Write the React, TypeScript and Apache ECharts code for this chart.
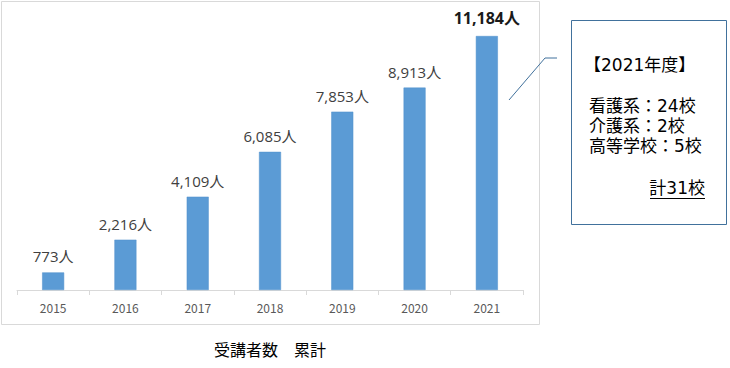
import React, { useEffect, useRef } from "react";
import * as echarts from "echarts";

const years = ["2015", "2016", "2017", "2018", "2019", "2020", "2021"];
const counts = [773, 2216, 4109, 6085, 7853, 8913, 11184];
const boxTitle = "【2021年度】";
const boxLines = ["看護系：24校", "介護系：2校", "高等学校：5校"];
const boxTotal = "計31校";
const chartTitle = "受講者数　累計";

const FONT = "'Noto Sans CJK JP', 'Noto Sans', sans-serif";
const MIX = "'Open Sans', 'Noto Sans CJK JP', sans-serif";
const BOX = "'DejaVu Sans', 'Noto Sans CJK JP', sans-serif";

export default function App() {
  const ref = useRef<HTMLDivElement>(null);
  useEffect(() => {
    document.body.style.margin = "0";
    const chart = echarts.init(ref.current!, null, { renderer: "svg" });
    const fmt = (v: number) => v.toLocaleString("en-US") + "人";
    const lastIdx = counts.length - 1;
    chart.setOption({
      animation: false,
      textStyle: { fontFamily: FONT },
      grid: { left: 17, right: 207, top: 17.5, bottom: 78 },
      xAxis: {
        type: "category",
        data: years,
        axisLine: { lineStyle: { color: "#D9D9D9", width: 1 } },
        axisTick: { show: true, length: 5, lineStyle: { color: "#D9D9D9" } },
        axisLabel: { color: "#595959", fontSize: 12, margin: 11, fontFamily: FONT },
      },
      yAxis: { type: "value", min: 0, max: 12000, show: false, splitLine: { show: false } },
      series: [
        {
          type: "bar",
          barWidth: 22,
          itemStyle: { color: "#5B9BD5", borderColor: "#5090CC", borderWidth: 0.5 },
          data: counts.map((v, i) =>
            i === lastIdx
              ? {
                  value: v,
                  label: { fontWeight: "bold", color: "#1a1a1a", fontSize: 16, distance: 10 },
                }
              : v
          ),
          label: {
            show: true,
            position: "top",
            distance: 8,
            color: "#404040",
            fontSize: 15,
            lineHeight: 16,
            fontFamily: MIX,
            formatter: (p: any) => fmt(p.value),
          },
        },
      ],
      graphic: [
        {
          type: "rect",
          shape: { x: 1.5, y: 1.5, width: 538, height: 323 },
          style: { fill: "none", stroke: "#D9D9D9", lineWidth: 1 },
          silent: true,
        },
        {
          type: "polyline",
          shape: { points: [[509, 100], [545, 58], [557, 58]] },
          style: { fill: "none", stroke: "#41719C", lineWidth: 1 },
        },
        {
          type: "rect",
          shape: { x: 571.5, y: 20.5, width: 155, height: 204 },
          style: { fill: "#fff", stroke: "#41719C", lineWidth: 1 },
        },
        {
          type: "text",
          x: 584,
          y: 65,
          style: { text: boxTitle, fontSize: 17, lineHeight: 19, fontFamily: BOX, fill: "#000", verticalAlign: "middle" },
        },
        ...boxLines.map((t, i) => ({
          type: "text",
          x: 589,
          y: 106 + i * 20,
          style: { text: t, fontSize: 17, lineHeight: 19, fontFamily: BOX, fill: "#000", verticalAlign: "middle" },
        })),
        {
          type: "text",
          x: 705,
          y: 188,
          style: {
            text: boxTotal,
            fontSize: 17,
            lineHeight: 19,
            fontFamily: BOX,
            fill: "#000",
            align: "right",
            verticalAlign: "middle",
          },
        },
        {
          type: "line",
          shape: { x1: 650, y1: 198.5, x2: 705, y2: 198.5 },
          style: { stroke: "#000", lineWidth: 1 },
        },
        {
          type: "text",
          x: 270,
          y: 349,
          style: {
            text: chartTitle,
            fontSize: 16,
            fontFamily: FONT,
            fill: "#000",
            align: "center",
            verticalAlign: "middle",
          },
        },
      ],
    });
    return () => chart.dispose();
  }, []);
  return <div ref={ref} style={{ position: "absolute", left: 0, top: 0, width: 730, height: 368 }} />;
}
